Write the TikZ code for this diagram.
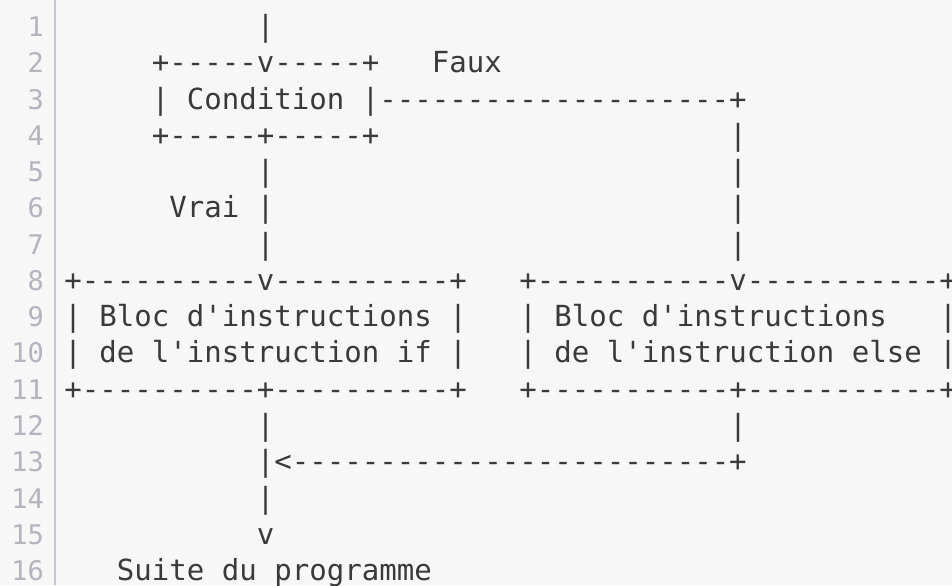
\documentclass[tikz,border=0pt]{standalone}
\usepackage{fontspec}
\setmonofont{DejaVu Sans Mono}
\definecolor{codebg}{HTML}{F7F7F7}
\definecolor{codefg}{HTML}{3A3A3A}
\definecolor{numfg}{HTML}{B4B4BC}
\definecolor{rulefg}{HTML}{C6C6CC}
\tikzset{
  code/.style={anchor=base west, inner sep=0pt, text=codefg, font=\ttfamily\fontsize{14.53}{17}\selectfont},
  lineno/.style={anchor=base east, inner sep=0pt, text=numfg, font=\ttfamily\fontsize{13.5}{16}\selectfont}
}

\begin{document}
\begin{tikzpicture}
\useasboundingbox (0pt,0pt) rectangle (476pt,-292.5pt);
\fill[codebg] (0pt,0pt) rectangle (476pt,-292.5pt);
\draw[rulefg, line width=1pt] (27.5pt,0pt) -- (27.5pt,-292.5pt); % gutter

\begin{scope}[x=8.75pt, y=-18.135pt, shift={(32pt,-0.115pt)}]
\foreach \r in {1,...,16} \node[lineno] (n\r) at (-1.12,\r) {\r};

% condition
\node[code] (l1)  at (11,1) {|};
\node[code] (l2)  at (5,2)  {+-----v-----+};
\node[code] (faux) at (21,2) {Faux};
\node[code] (l3)  at (5,3)  {| Condition |--------------------+};
\node[code] (l4)  at (5,4)  {+-----+-----+};
\node[code] (l4b) at (38,4) {|};
\node[code] (l5)  at (11,5) {|};
\node[code] (l5b) at (38,5) {|};
\node[code] (vrai) at (6,6) {Vrai |};
\node[code] (l6b) at (38,6) {|};
\node[code] (l7)  at (11,7) {|};
\node[code] (l7b) at (38,7) {|};

% the two blocks
\node[code] (if1)   at (0,8)  {+----------v----------+};
\node[code] (else1) at (26,8) {+-----------v-----------+};
\node[code] (if2)   at (0,9)  {| Bloc d'instructions |};
\node[code] (else2) at (26,9) {| Bloc d'instructions~~~|};
\node[code] (if3)   at (0,10) {| de l'instruction if |};
\node[code] (else3) at (26,10) {| de l'instruction else |};
\node[code] (if4)   at (0,11) {+----------+----------+};
\node[code] (else4) at (26,11) {+-----------+-----------+};

% join
\node[code] (l12)  at (11,12) {|};
\node[code] (l12b) at (38,12) {|};
\node[code] (l13)  at (11,13) {|<-------------------------+};
\node[code] (l14)  at (11,14) {|};
\node[code] (l15)  at (11,15) {v};
\node[code] (suite) at (3,16) {Suite du programme};
\end{scope}
\end{tikzpicture}
\end{document}
